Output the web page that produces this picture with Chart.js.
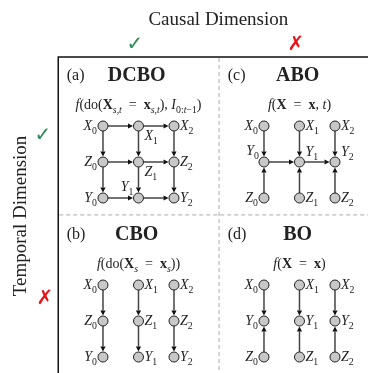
<!DOCTYPE html>
<html>
<head>
<meta charset="utf-8">
<script src="https://cdn.jsdelivr.net/npm/chart.js@4/dist/chart.umd.min.js"></script>
<style>html,body{margin:0;padding:0;background:#fff;}canvas{display:block;}</style>
</head>
<body>
<canvas id="c" width="368" height="373"></canvas>
<script>
// ---------- data ----------
const panelIds   = ['(a)', '(c)', '(b)', '(d)'];
const panelNames = ['DCBO', 'ABO', 'CBO', 'BO'];
const panelCol   = [0, 1, 0, 1];
const panelRow   = [0, 0, 1, 1];
const timeSteps  = [0, 1, 2];
const rowVarsA   = ['X', 'Z', 'Y'];   // DCBO
const rowVarsC   = ['X', 'Y', 'Z'];   // ABO
const rowVarsB   = ['X', 'Z', 'Y'];   // CBO
const rowVarsD   = ['X', 'Y', 'Z'];   // BO
const edgesA = [['X0','X1'],['X1','X2'],['Z0','Z1'],['Z1','Z2'],['Y0','Y1'],['Y1','Y2'],
                ['X0','Z0'],['X1','Z1'],['X2','Z2'],['Z0','Y0'],['Z1','Y1'],['Z2','Y2']];
const edgesC = [['X0','Y0'],['X1','Y1'],['X2','Y2'],['Z0','Y0'],['Z1','Y1'],['Z2','Y2'],['Y0','Y1'],['Y1','Y2']];
const edgesB = [['X0','Z0'],['X1','Z1'],['X2','Z2'],['Z0','Y0'],['Z1','Y1'],['Z2','Y2']];
const edgesD = [['X0','Y0'],['X1','Y1'],['X2','Y2'],['Z0','Y0'],['Z1','Y1'],['Z2','Y2']];
const labelPosA = {X0:'l',X1:'br',X2:'r',Z0:'l',Z1:'br',Z2:'r',Y0:'l',Y1:'tl',Y2:'r'};
const labelPosC = {X0:'l',X1:'r',X2:'r',Y0:'tl',Y1:'tr',Y2:'tr',Z0:'l',Z1:'r',Z2:'r'};
const labelPosB = {X0:'l',X1:'r',X2:'r',Z0:'l',Z1:'r',Z2:'r',Y0:'l',Y1:'r',Y2:'r'};
const labelPosD = {X0:'l',X1:'r',X2:'r',Y0:'l',Y1:'r',Y2:'r',Z0:'l',Z1:'r',Z2:'r'};
const formulaA = [['f','i'],['(do(','r'],['X','b'],['s,t','i',1],['  =  ','r'],['x','b'],['s,t','i',1],['), ','r'],['I','i'],['0:','r',1],['t','i',1],['−1','r',1],[')','r']];
const formulaC = [['f','i'],['(','r'],['X','b'],['  =  ','r'],['x','b'],[', ','r'],['t','i'],[')','r']];
const formulaB = [['f','i'],['(do(','r'],['X','b'],['s','i',1],['  =  ','r'],['x','b'],['s','i',1],['))','r']];
const formulaD = [['f','i'],['(','r'],['X','b'],['  =  ','r'],['x','b'],[')','r']];
const rowVars   = [rowVarsA, rowVarsC, rowVarsB, rowVarsD];
const edges     = [edgesA, edgesC, edgesB, edgesD];
const labelPos  = [labelPosA, labelPosC, labelPosB, labelPosD];
const formulas  = [formulaA, formulaC, formulaB, formulaD];
const colTitle  = 'Causal Dimension';
const rowTitle  = 'Temporal Dimension';
const colMarks  = ['✓', '✗'];
const rowMarks  = ['✓', '✗'];

// grid layout (in grid units)
const PANEL_DX = 4.535, PANEL_DY = 4.417;
function gx(p, c){ return panelCol[p]*PANEL_DX + c; }
function gy(p, r){ return panelRow[p]*PANEL_DY + r; }

// build node dataset
const nodePts = [];
const nodeIndex = [];   // per panel: name -> point
for (let p = 0; p < 4; p++) {
  const map = {};
  rowVars[p].forEach((v, r) => timeSteps.forEach(t => {
    const pt = {x: gx(p, t), y: gy(p, r), name: v + t, panel: p};
    nodePts.push(pt); map[v + t] = pt;
  }));
  nodeIndex.push(map);
}

const SERIF = '"Liberation Serif", "Times New Roman", serif';
function fontFor(style, size){
  const w = style.includes('b') ? 'bold ' : '';
  const it = style.includes('i') ? 'italic ' : '';
  return it + w + size + 'px ' + SERIF;
}
function richWidth(ctx, segs, size){
  let w = 0;
  segs.forEach(s => { const sz = s[2] ? size*0.7 : size; ctx.font = fontFor(s[1], sz); w += ctx.measureText(s[0]).width; });
  return w;
}
function drawRich(ctx, segs, x, y, align, size){
  const w = richWidth(ctx, segs, size);
  let cx = align === 'center' ? x - w/2 : (align === 'right' ? x - w : x);
  ctx.textAlign = 'left'; ctx.textBaseline = 'alphabetic';
  segs.forEach(s => {
    const sub = !!s[2]; const sz = sub ? size*0.7 : size;
    ctx.font = fontFor(s[1], sz);
    ctx.fillText(s[0], cx, y + (sub ? size*0.25 : 0));
    cx += ctx.measureText(s[0]).width;
  });
}

const R = 5;
const diagramPlugin = {
  id: 'diagram',
  beforeDatasetsDraw(chart){
    const ctx = chart.ctx, xs = chart.scales.x, ys = chart.scales.y;
    ctx.save();
    // frame
    ctx.strokeStyle = '#111'; ctx.lineWidth = 1.5;
    const fx = xs.getPixelForValue(-1.26), fy = ys.getPixelForValue(-1.917);
    ctx.beginPath(); ctx.moveTo(fx, chart.height); ctx.lineTo(fx, fy); ctx.lineTo(chart.width, fy); ctx.stroke();
    // dashed separators
    ctx.strokeStyle = '#aaa'; ctx.lineWidth = 1; ctx.setLineDash([4,3]);
    const dx = xs.getPixelForValue(3.27), dy = ys.getPixelForValue(2.47);
    ctx.beginPath(); ctx.moveTo(dx, fy + 1); ctx.lineTo(dx, chart.height); ctx.stroke();
    ctx.beginPath(); ctx.moveTo(fx + 1, dy); ctx.lineTo(chart.width, dy); ctx.stroke();
    ctx.setLineDash([]);
    // headers
    ctx.fillStyle = '#222';
    ctx.font = '19px ' + SERIF; ctx.textAlign = 'center'; ctx.textBaseline = 'alphabetic';
    ctx.fillText(colTitle, xs.getPixelForValue(3.25), 25);
    ctx.save(); ctx.translate(26, ys.getPixelForValue(2.5)); ctx.rotate(-Math.PI/2);
    ctx.fillText(rowTitle, 0, 0); ctx.restore();
    ctx.font = 'bold 20px "DejaVu Sans", sans-serif';
    const markColor = m => m === '✓' ? '#2e8b57' : '#e8141c';
    colMarks.forEach((m, i) => { ctx.fillStyle = markColor(m); ctx.fillText(m, xs.getPixelForValue(i*PANEL_DX + 0.9), 50); });
    rowMarks.forEach((m, i) => { ctx.fillStyle = markColor(m); ctx.fillText(m, 43 + i*2, ys.getPixelForValue(i*PANEL_DY + 0.42 + i*0.1)); });
    // panels
    for (let p = 0; p < 4; p++) {
      const ox = panelCol[p]*PANEL_DX, oy = panelRow[p]*PANEL_DY;
      ctx.fillStyle = '#222';
      ctx.font = '16px ' + SERIF; ctx.textAlign = 'left';
      ctx.fillText(panelIds[p], xs.getPixelForValue(ox - 1.02), ys.getPixelForValue(oy - 1.28));
      ctx.font = 'bold 20px ' + SERIF; ctx.textAlign = 'center';
      ctx.fillText(panelNames[p], xs.getPixelForValue(ox + 0.95), ys.getPixelForValue(oy - 1.26));
      drawRich(ctx, formulas[p], xs.getPixelForValue(ox + 1.0), ys.getPixelForValue(oy - 0.47), 'center', 14);
      // edges
      edges[p].forEach(([a, b]) => {
        const A = nodeIndex[p][a], B = nodeIndex[p][b];
        const x1 = xs.getPixelForValue(A.x), y1 = ys.getPixelForValue(A.y);
        const x2 = xs.getPixelForValue(B.x), y2 = ys.getPixelForValue(B.y);
        const L = Math.hypot(x2-x1, y2-y1), ux = (x2-x1)/L, uy = (y2-y1)/L;
        const tipX = x2 - ux*(R+0.5), tipY = y2 - uy*(R+0.5);
        const AL = 5, AW = 2.6;
        ctx.strokeStyle = '#444'; ctx.lineWidth = 1.5;
        ctx.beginPath(); ctx.moveTo(x1 + ux*R, y1 + uy*R); ctx.lineTo(tipX - ux*AL, tipY - uy*AL); ctx.stroke();
        ctx.fillStyle = '#111';
        ctx.beginPath(); ctx.moveTo(tipX, tipY);
        ctx.lineTo(tipX - ux*AL - uy*AW, tipY - uy*AL + ux*AW);
        ctx.lineTo(tipX - ux*AL + uy*AW, tipY - uy*AL - ux*AW);
        ctx.closePath(); ctx.fill();
      });
      // node labels
      ctx.fillStyle = '#222';
      Object.keys(labelPos[p]).forEach(n => {
        const pt = nodeIndex[p][n];
        const cx = xs.getPixelForValue(pt.x), cy = ys.getPixelForValue(pt.y);
        const segs = [[n[0], 'i'], [n[1], 'r', 1]];
        const pos = labelPos[p][n];
        const fs = 14;
        if (pos === 'l') drawRich(ctx, segs, cx - 6, cy + 4, 'right', fs);
        else if (pos === 'r') drawRich(ctx, segs, cx + 6, cy + 4, 'left', fs);
        else if (pos === 'br') drawRich(ctx, segs, cx + 6, cy + 14, 'left', fs);
        else if (pos === 'tl') drawRich(ctx, segs, cx - 5, cy - 7, 'right', fs);
        else if (pos === 'tr') drawRich(ctx, segs, cx + 6, cy - 6, 'left', fs);
      });
    }
    ctx.restore();
  }
};

new Chart(document.getElementById('c'), {
  type: 'scatter',
  data: { datasets: [{
    data: nodePts,
    pointRadius: R, pointHoverRadius: R,
    backgroundColor: '#c8c8c8', borderColor: '#222', borderWidth: 1
  }]},
  options: {
    responsive: false, animation: false,
    layout: { padding: 0, autoPadding: false },
    plugins: { legend: { display: false }, tooltip: { enabled: false } },
    scales: {
      x: { type: 'linear', display: false, min: -2.901, max: 7.465 },
      y: { type: 'linear', display: false, reverse: true, min: -3.5, max: 6.861 }
    }
  },
  plugins: [diagramPlugin]
});
</script>
</body>
</html>
